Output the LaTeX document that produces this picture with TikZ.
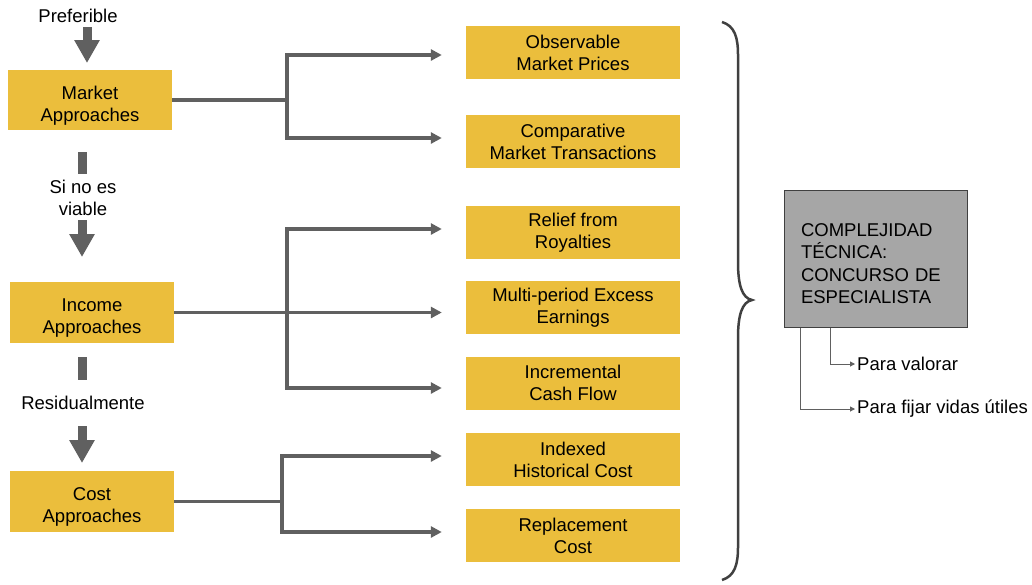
\documentclass[tikz,border=0pt]{standalone}
\usepackage{fontspec}
\setmainfont{Liberation Sans}
\usetikzlibrary{arrows.meta}
\definecolor{boxyellow}{HTML}{EBBE3C}
\definecolor{conngray}{HTML}{606060}
\definecolor{cbox}{HTML}{A6A6A6}
\definecolor{bracegray}{HTML}{404040}
\newcommand{\lowtext}[2]{\raisebox{-#1}[\height][\depth]{\begin{tabular}{@{}c@{}}#2\end{tabular}}}
\begin{document}
\begin{tikzpicture}[x=1pt,y=-1pt,
  txt/.style={font=\fontsize{18.5}{22}\selectfont, align=center, text=black},
  leftbox/.style={txt, fill=boxyellow, minimum width=164pt, minimum height=60pt, inner sep=0pt},
  rightbox/.style={txt, fill=boxyellow, minimum width=214pt, minimum height=53pt, inner sep=0pt},
  conn/.style={draw=conngray, line width=3.5pt},
  connarrow/.style={conn, -{Triangle[length=11pt,width=11pt]}, shorten >=24pt},
  bigarrow/.style={draw=conngray, line width=9pt, -{Triangle[length=23pt,width=24pt]}},
  bar/.style={draw=conngray, line width=9pt},
  thin/.style={draw=conngray, line width=1pt, -{Triangle[length=5pt,width=5pt]}}
]
\useasboundingbox (0,0) rectangle (1032,584);

% left column
\node[txt] (pref) at (78,16) {Preferible};
\node[leftbox] (market) at (90,100) {\lowtext{6pt}{Market\\Approaches}};
\node[txt] (sino) at (83,198) {Si no es\\viable};
\node[leftbox, minimum height=61pt] (income) at (92,312.5) {\lowtext{6pt}{Income\\Approaches}};
\node[txt] (resid) at (83,403) {Residualmente};
\node[leftbox, minimum height=61pt] (cost) at (92,501.5) {\lowtext{6pt}{Cost\\Approaches}};

\coordinate (a1s) at (87,27);  \coordinate (a1e) at (87,63);
\coordinate (b1s) at (82,152); \coordinate (b1e) at (82,174);
\coordinate (a2s) at (82,220); \coordinate (a2e) at (82,257);
\coordinate (b2s) at (82,357); \coordinate (b2e) at (82,380);
\coordinate (a3s) at (82,426); \coordinate (a3e) at (82,463);
\draw[bigarrow] (a1s) -- (a1e);
\draw[bar] (b1s) -- (b1e);
\draw[bigarrow] (a2s) -- (a2e);
\draw[bar] (b2s) -- (b2e);
\draw[bigarrow] (a3s) -- (a3e);

% right boxes
\node[rightbox] (obs) at (573,52.5) {Observable\\Market Prices};
\node[rightbox] (comp) at (573,141.5) {Comparative\\Market Transactions};
\node[rightbox] (relief) at (573,232.5) {Relief from\\Royalties};
\node[rightbox] (multi) at (573,307.5) {Multi-period Excess\\Earnings};
\node[rightbox] (incr) at (573,383) {Incremental\\Cash Flow};
\node[rightbox] (index) at (573,459.5) {Indexed\\Historical Cost};
\node[rightbox] (repl) at (573,535.5) {Replacement\\Cost};

% market connectors
\coordinate (mk) at (287,100);
\draw[conn] (market.east) -- (mk);
\draw[connarrow] (mk) |- ([yshift=-2.5pt]obs.west);
\draw[connarrow] (mk) |- ([yshift=3.5pt]comp.west);

% income connectors
\coordinate (ic) at (287,312.5);
\draw[conn] (income.east) -- (ic);
\draw[connarrow] (ic) |- ([yshift=3.5pt]relief.west);
\draw[connarrow] (ic) -- ([yshift=-5pt]multi.west);
\draw[connarrow] (ic) |- ([yshift=-5pt]incr.west);

% cost connectors
\coordinate (cc) at (282,501.5);
\draw[conn] (cost.east) -- (cc);
\draw[connarrow] (cc) |- ([yshift=3.5pt]index.west);
\draw[connarrow] (cc) |- ([yshift=3.5pt]repl.west);

% brace
\coordinate (brtop) at (722,22);
\coordinate (brtip) at (752,300);
\coordinate (brbot) at (722,580);
\draw[draw=bracegray, line width=2.5pt]
  (brtop) .. controls (735,26) and (738,38) .. (738,55)
  -- (738,262) .. controls (738,285) and (742,298) .. (brtip)
  .. controls (742,302) and (738,315) .. (738,338)
  -- (738,547) .. controls (738,564) and (735,576) .. (brbot);

% complexity box
\node[draw=bracegray, line width=1pt, fill=cbox, minimum width=183pt, minimum height=137pt,
      inner xsep=17pt, inner ysep=0pt, text width=149pt, align=left,
      font=\fontsize{18.5}{22.3}\selectfont] (cx) at (875.5,258.5)
      {\raisebox{-5pt}[\height][\depth]{\parbox{149pt}{COMPLEJIDAD\\TÉCNICA:\\CONCURSO DE\\ESPECIALISTA}}};

\node[txt, anchor=west, inner xsep=2pt] (pv) at (855,364) {Para valorar};
\node[txt, anchor=west, inner xsep=2pt] (pf) at (855,409) {Para fijar vidas útiles};
\draw[thin] ([xshift=-45.5pt]cx.south) |- (pv.west);
\draw[thin] ([xshift=-75.5pt]cx.south) |- (pf.west);
\end{tikzpicture}
\end{document}
